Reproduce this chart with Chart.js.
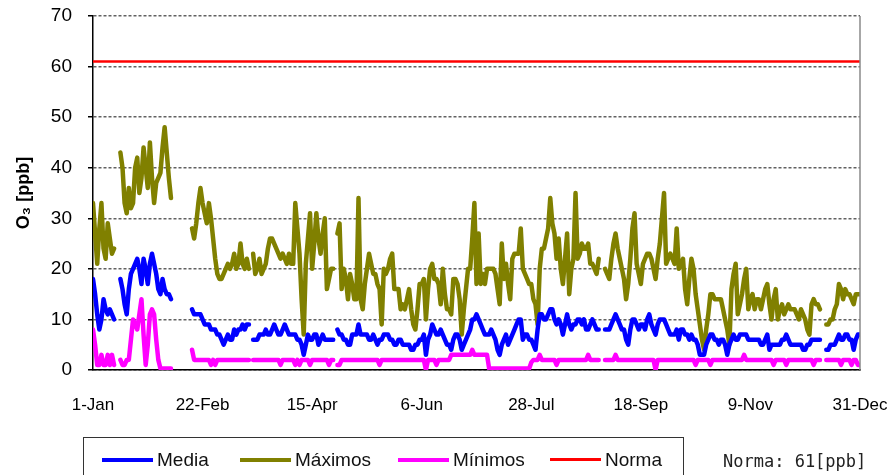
<!DOCTYPE html>
<html>
<head>
<meta charset="utf-8">
<script src="https://cdn.jsdelivr.net/npm/chart.js@4.4.1/dist/chart.umd.min.js"></script>
<style>
  html, body { margin: 0; padding: 0; background: #fff; }
  #wrap { position: relative; width: 891px; height: 475px; overflow: hidden; }
  #chart { position: absolute; left: 0; top: 0; }
  .legend { position: absolute; left: 83px; top: 437px; width: 601px; height: 60px; border: 1px solid #333; box-sizing: border-box; }
  .item { position: absolute; top: 10px; font: 19px "Liberation Sans", Arial, sans-serif; line-height: 24px; white-space: nowrap; color: #111; }
  .item i { display: inline-block; width: 51px; height: 4px; vertical-align: middle; margin-right: 4px; position: relative; top: -1px; }
  .note { position: absolute; left: 723px; top: 451px; font: 17px "DejaVu Sans Mono", monospace; color: #222; }
</style>
</head>
<body>
<div id="wrap">
  <canvas id="chart" width="891" height="475"></canvas>
  <div class="legend">
    <span class="item" style="left:18px"><i style="background:#0000ff"></i>Media</span>
    <span class="item" style="left:156px"><i style="background:#808000"></i>Máximos</span>
    <span class="item" style="left:314px"><i style="background:#ff00ff"></i>Mínimos</span>
    <span class="item" style="left:466px"><i style="background:#ff0000;height:3px"></i>Norma</span>
  </div>
  <div class="note">Norma: 61[ppb]</div>
</div>
<script>
// ---- datos (un valor por día, null = sin datos) ----
const tickLabels = ["1-Jan", "22-Feb", "15-Apr", "6-Jun", "28-Jul", "18-Sep", "9-Nov", "31-Dec"];
const normaValue = 61;

const mediaValues = [
  18,15,11,8,10,14,12,11,12,11,
  10,null,null,18,16,13,11,16,19,20,
  21,22,20,17,22,20,17,21,23,21,
  19,16,15,18,16,15,15,14,null,null,
  null,null,null,null,null,null,null,12,11,11,
  11,11,10,9,9,9,8,8,8,7,
  7,6,5,6,7,6,6,8,7,8,
  8,9,8,9,9,null,6,6,6,7,
  7,7,8,7,7,8,9,8,7,7,
  8,9,8,7,7,7,7,6,6,5,
  3,5,7,6,6,7,7,5,6,7,
  6,6,6,6,6,null,8,7,7,6,
  6,5,5,7,7,7,9,7,7,7,
  7,6,6,7,6,5,6,6,7,7,
  7,6,6,5,5,6,6,5,5,5,
  5,4,4,5,5,6,6,7,3,6,
  7,9,8,7,7,8,7,6,5,5,
  4,6,7,7,6,4,5,6,7,8,
  10,10,11,10,9,8,7,7,7,8,
  7,6,4,3,5,6,7,5,6,7,
  8,9,10,10,6,7,7,6,6,5,
  4,8,11,11,10,10,11,12,12,10,
  9,10,9,7,9,11,9,8,9,9,
  10,10,9,10,8,8,9,10,9,8,
  8,null,null,8,8,8,9,10,11,10,
  9,8,8,6,5,8,10,10,9,8,
  9,9,8,10,11,9,8,7,9,10,
  10,10,9,8,7,7,7,8,6,8,
  8,7,7,6,7,6,6,5,3,3,
  3,5,6,7,7,6,6,5,6,6,
  5,3,5,6,7,6,6,7,7,7,
  7,6,6,6,6,6,6,5,5,6,
  7,4,5,5,5,5,5,6,6,7,
  6,5,5,5,5,5,5,4,4,5,
  5,6,6,6,6,6,null,null,4,4,
  5,5,5,6,7,6,6,7,7,6,
  6,4,6,7,7
];

const maxValues = [
  33,27,21,28,33,24,22,29,26,23,
  24,null,null,43,40,33,31,36,32,33,
  40,42,35,38,44,40,36,45,38,33,
  37,38,39,44,48,43,38,34,null,null,
  null,null,null,null,null,null,null,28,26,29,
  33,36,33,31,29,33,30,26,22,19,
  18,18,19,20,21,20,21,23,20,21,
  25,21,20,22,20,null,23,19,20,22,
  19,20,21,24,26,26,25,24,23,22,
  23,22,21,23,21,21,33,28,23,14,
  7,21,26,31,20,25,31,26,23,27,
  30,16,18,20,20,null,27,29,16,20,
  18,14,19,17,14,14,34,14,12,17,
  20,23,21,19,19,17,16,9,20,19,
  20,22,23,16,16,16,12,13,12,14,
  16,12,9,8,12,17,17,18,10,16,
  20,21,18,18,17,13,20,15,12,12,
  11,18,18,17,14,7,12,16,20,20,
  26,33,17,27,17,19,17,20,20,20,
  20,19,16,13,25,18,21,17,14,22,
  23,23,23,28,20,19,18,17,17,14,
  13,9,20,24,24,26,28,34,29,27,
  22,26,20,17,22,27,15,20,22,35,
  22,23,25,24,24,25,21,21,20,19,
  22,null,null,20,19,18,22,25,27,24,
  22,20,18,14,17,22,28,31,21,19,
  17,21,22,23,23,22,20,18,22,25,
  30,35,21,22,23,22,21,28,20,21,
  22,16,13,18,22,20,15,12,9,6,
  4,8,11,15,15,14,14,14,14,12,
  10,8,5,16,19,21,11,13,15,18,
  20,12,14,15,12,14,14,12,14,16,
  17,13,10,14,16,10,12,13,11,12,
  13,12,12,12,11,10,12,11,10,8,
  7,13,14,13,13,12,null,null,9,9,
  10,10,12,13,17,16,14,16,15,15,
  14,13,15,15,15
];

const minValues = [
  8,5,1,1,3,1,1,3,1,3,
  1,null,null,2,1,1,2,2,6,10,
  9,8,11,14,7,1,5,11,12,11,
  6,2,0.3,0.3,0.3,0.3,0.3,0.3,null,null,
  null,null,null,null,null,null,null,4,2,2,
  2,2,2,2,2,2,1,2,1,2,
  2,2,2,2,2,2,2,2,2,2,
  2,2,2,2,2,null,2,2,2,2,
  2,2,2,2,2,2,2,2,2,1,
  2,2,2,2,2,2,1,2,1,2,
  2,2,2,1,2,2,2,2,2,2,
  2,2,1,2,2,null,1,1,2,2,
  2,2,2,2,2,2,2,2,2,2,
  2,2,2,2,2,2,1,2,2,2,
  2,2,2,2,2,2,2,2,2,2,
  2,2,2,2,2,2,2,2,0,2,
  2,2,2,1,2,2,2,2,2,2,
  3,3,3,3,3,3,3,3,3,3,
  4,3,3,3,3,3,3,3,0.3,0.3,
  0.3,0.3,0.3,0.3,0.3,0.3,0.3,0.3,0.3,0.3,
  0.3,0.3,0.3,0.3,0.3,0.3,0.3,0.3,1.5,2,
  2,2,3,2,2,2,2,2,2,2,
  1,2,2,2,2,2,2,2,2,2,
  2,2,2,2,2,3,2,2,2,2,
  2,null,null,2,2,2,2,2,3,2,
  2,2,2,2,2,2,2,2,2,2,
  2,2,2,2,2,2,2,0,2,2,
  2,2,2,2,2,2,2,2,2,2,
  2,2,2,2,2,2,1,2,2,2,
  2,2,2,1,2,2,2,2,2,2,
  2,2,2,2,2,2,2,2,2,3,
  2,2,2,2,2,2,2,2,2,2,
  2,2,2,1,2,2,2,2,2,1,
  2,2,2,2,2,2,2,2,2,2,
  2,2,1,2,2,2,null,null,2,2,
  2,2,2,2,2,1,2,2,2,2,
  1,2,2,1,1
];

const lastDay = mediaValues.length - 1;
const toPoints = (arr) => arr.map((v, i) => ({ x: i, y: v }));

// borde derecho gris del área de trazado
const rightBorder = {
  id: "rightBorder",
  afterDraw(chart) {
    const { ctx, chartArea } = chart;
    ctx.save();
    ctx.strokeStyle = "#8a8a8a";
    ctx.lineWidth = 1.5;
    ctx.beginPath();
    ctx.moveTo(chartArea.right, chartArea.top);
    ctx.lineTo(chartArea.right, chartArea.bottom);
    ctx.stroke();
    ctx.restore();
  },
};

Chart.defaults.font.family = '"Liberation Sans", Arial, sans-serif';
Chart.defaults.color = "#000";

const lineStyle = {
  pointRadius: 0,
  borderWidth: 4.5,
  tension: 0,
  spanGaps: false,
  borderJoinStyle: "round",
  borderCapStyle: "round",
  fill: false,
};

new Chart(document.getElementById("chart"), {
  type: "line",
  data: {
    datasets: [
      { ...lineStyle, label: "Media", data: toPoints(mediaValues), borderColor: "#0000ff" },
      { ...lineStyle, label: "Máximos", data: toPoints(maxValues), borderColor: "#808000" },
      { ...lineStyle, label: "Mínimos", data: toPoints(minValues), borderColor: "#ff00ff" },
      {
        ...lineStyle,
        label: "Norma",
        data: [{ x: 0, y: normaValue }, { x: lastDay, y: normaValue }],
        borderColor: "#ff0000",
        borderWidth: 2.5,
      },
    ],
  },
  options: {
    responsive: false,
    animation: false,
    layout: { padding: { top: 16, left: 0, right: 31, bottom: 55 } },
    plugins: { legend: { display: false }, tooltip: { enabled: false } },
    scales: {
      x: {
        type: "linear",
        min: 0,
        max: lastDay,
        afterFit: (scale) => {
          scale.height = 50;
          scale.paddingLeft = 0;
          scale.paddingRight = 0;
        },
        ticks: {
          stepSize: 52,
          padding: 25,
          maxRotation: 0,
          font: { size: 17 },
          callback: (v) => tickLabels[v / 52],
        },
        grid: { display: true, drawOnChartArea: false, drawTicks: false },
        border: { color: "#000", width: 1.5 },
      },
      y: {
        min: 0,
        max: 70,
        afterFit: (scale) => {
          scale.width = 93;
          scale.paddingTop = 0;
          scale.paddingBottom = 0;
        },
        ticks: { stepSize: 10, padding: 16, font: { size: 19 } },
        grid: {
          color: "rgba(80,80,80,0.9)",
          lineWidth: 1.5,
          tickLength: 5,
          tickColor: "#000",
          tickWidth: 1.5,
          tickBorderDash: [],
        },
        border: { color: "#000", width: 1.5, dash: [3, 2] },
        title: {
          display: true,
          text: "O₃ [ppb]",
          font: { size: 18, weight: "bold" },
          padding: { top: 13 },
        },
      },
    },
  },
  plugins: [rightBorder],
});
</script>
</body>
</html>
